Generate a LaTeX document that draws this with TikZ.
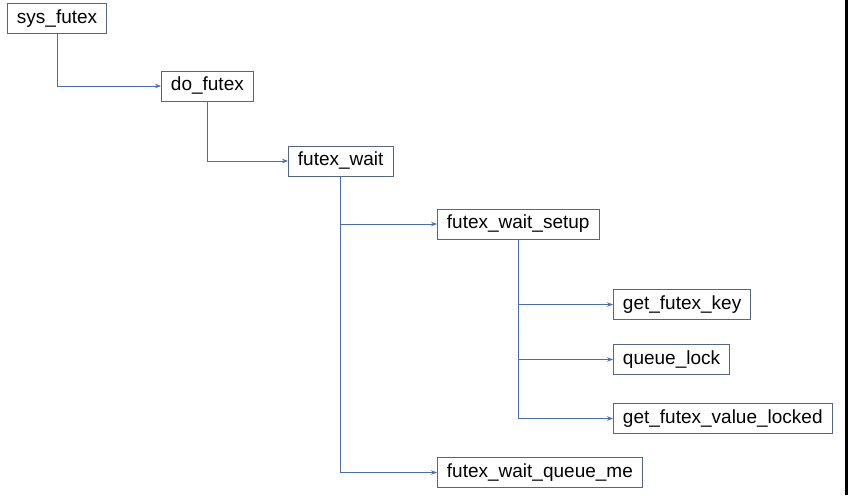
\documentclass[tikz,border=0pt]{standalone}
\usepackage{fontspec}
\setmainfont{Liberation Sans}
\usetikzlibrary{arrows.meta}
\definecolor{boxline}{RGB}{84,102,128}
\definecolor{linkline}{RGB}{72,110,176}

\begin{document}
\begin{tikzpicture}[x=1pt, y=1pt,
    func/.style={draw=boxline, line width=0.9pt, anchor=west, minimum height=30pt,
                 inner xsep=9.5pt, inner ysep=0pt, font=\fontsize{19}{21}\selectfont},
    call/.style={draw=linkline, line width=0.9pt, -{Stealth[length=6pt, width=4.5pt]}}]
    \useasboundingbox (0,0) rectangle (848,-495);
    \fill[white] (0,0) rectangle (845,-495);
    \fill[black] (845,0) rectangle (848,-495);

    \node[func] (sys) at (7,-18.5) {sys\_futex};
    \node[func] (do) at (161,-86) {do\_futex};
    \node[func] (wait) at (288,-161) {futex\_wait};
    \node[func] (setup) at (437,-224) {futex\_wait\_setup};
    \node[func] (key) at (613,-304.5) {get\_futex\_key};
    \node[func] (lock) at (613,-359.5) {queue\_lock};
    \node[func] (value) at (613,-418.5) {get\_futex\_value\_locked};
    \node[func] (queue) at (437,-472.5) {futex\_wait\_queue\_me};

    \draw[call] (sys.south) |- (do.west);
    \draw[call] (do.south) |- (wait.west);
    \draw[call] (wait.south) |- (setup.west);
    \draw[call] (wait.south) |- (queue.west);
    \draw[call] (setup.south) |- (key.west);
    \draw[call] (setup.south) |- (lock.west);
    \draw[call] (setup.south) |- (value.west);
\end{tikzpicture}
\end{document}
